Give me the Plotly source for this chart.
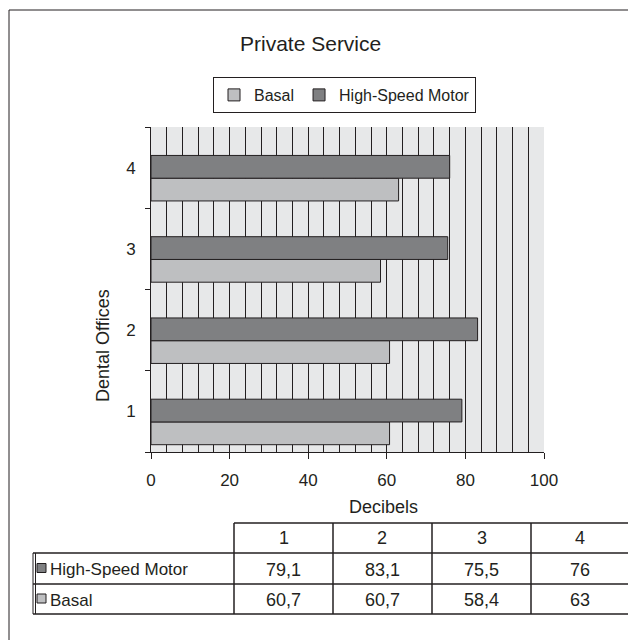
import plotly.graph_objects as go

# dental office noise levels (dB), private service
offices = [1, 2, 3, 4]
office_labels = ["1", "2", "3", "4"]
basal = [60.7, 60.7, 58.4, 63]
motor = [79.1, 83.1, 75.5, 76]
basal_txt = ["60,7", "60,7", "58,4", "63"]
motor_txt = ["79,1", "83,1", "75,5", "76"]

W, H = 636, 640
OFF = 8  # page body margin in the browser
INK = "#231f20"
DARK = "#7f8082"
LIGHT = "#bebfc1"
FONT = "Liberation Sans, Arial, sans-serif"


def px(x):
    return (x - OFF) / W


def py(y):
    return 1 - (y - OFF) / H


def note(x, y, text, size, **kw):
    d = dict(x=px(x), y=py(y), xref="paper", yref="paper", text=text,
             showarrow=False, xanchor="center", yanchor="middle",
             font=dict(family=FONT, size=size, color=INK))
    d.update(kw)
    return d


def hline(x0, x1, y, width=1.5):
    return dict(type="line", xref="paper", yref="paper", x0=px(x0), x1=px(x1),
                y0=py(y), y1=py(y), line=dict(color=INK, width=width))


def vline(x, y0, y1, width=1.5):
    return dict(type="line", xref="paper", yref="paper", x0=px(x), x1=px(x),
                y0=py(y0), y1=py(y1), line=dict(color=INK, width=width))


fig = go.Figure()
fig.add_trace(go.Bar(
    name="Basal", y=offices, x=basal, orientation="h",
    width=0.28, offset=-0.41,
    marker=dict(color=LIGHT, line=dict(color=INK, width=1)),
))
fig.add_trace(go.Bar(
    name="High-Speed Motor", y=offices, x=motor, orientation="h",
    width=0.28, offset=-0.13,
    marker=dict(color=DARK, line=dict(color=INK, width=1)),
))

shapes = []
annotations = []

# outer frame (open at right and bottom, like the cropped page)
shapes.append(hline(9, 660, 10, width=1))
shapes.append(vline(9, 10, 660, width=1))

# data table under the chart
col_x = [234, 333, 432, 531, 629]
row_y = [523, 553, 584, 614]
left_x = 33
shapes.append(hline(col_x[0], col_x[-1], row_y[0]))
for yy in row_y[1:]:
    shapes.append(hline(left_x, col_x[-1], yy))
for xx in col_x:
    shapes.append(vline(xx, row_y[0], row_y[-1]))
for xx in (left_x, left_x + 2.5):
    shapes.append(vline(xx, row_y[1], row_y[-1], width=1))

for i, lab in enumerate(office_labels):
    cx = (col_x[i] + col_x[i + 1]) / 2
    annotations.append(note(cx, (row_y[0] + row_y[1]) / 2, lab, 18))
    annotations.append(note(cx, (row_y[1] + row_y[2]) / 2 + 1, motor_txt[i], 18))
    annotations.append(note(cx, (row_y[2] + row_y[3]) / 2 + 1, basal_txt[i], 18))

for (name, color), r in zip([("High-Speed Motor", DARK), ("Basal", LIGHT)], [1, 2]):
    cy = (row_y[r] + row_y[r + 1]) / 2
    shapes.append(dict(type="rect", xref="paper", yref="paper",
                       x0=px(37), x1=px(46), y0=py(cy - 5), y1=py(cy + 4),
                       fillcolor=color, line=dict(color=INK, width=1)))
    annotations.append(note(48, cy + 1, name, 17, xanchor="left"))

# chart title and axis titles
annotations.append(note(310, 43, "Private Service", 21))
annotations.append(note(383, 507, "Decibels", 18))
annotations.append(note(103, 346, "Dental Offices", 18, textangle=-90))

fig.update_layout(
    width=W, height=H,
    margin=dict(l=0, r=0, t=0, b=0),
    paper_bgcolor="white",
    plot_bgcolor="#e7e8e9",
    barmode="overlay",
    font=dict(family=FONT, size=17, color=INK),
    shapes=shapes,
    annotations=annotations,
    showlegend=True,
    legend=dict(
        orientation="h", x=px(213), y=py(77), xanchor="left", yanchor="top",
        bordercolor=INK, borderwidth=1, bgcolor="white",
        font=dict(family=FONT, size=16, color=INK),
        traceorder="normal", itemwidth=30,
    ),
    xaxis=dict(
        domain=[px(151), px(544)], range=[0, 100],
        tickvals=[0, 20, 40, 60, 80, 100],
        ticks="outside", ticklen=6, tickcolor=INK, tickwidth=1,
        ticklabelstandoff=7,
        showline=True, linecolor=INK, linewidth=1,
        showgrid=True, gridcolor=INK, gridwidth=1,
        zeroline=False, automargin=False,
        minor=dict(dtick=4, tick0=0, showgrid=True, gridcolor=INK, gridwidth=1, ticks=""),
        tickfont=dict(size=17),
    ),
    yaxis=dict(
        domain=[py(452), py(127)], range=[0.5, 4.5],
        tickvals=offices, ticktext=office_labels, ticks="",
        ticklabelstandoff=11,
        showline=True, linecolor=INK, linewidth=1,
        showgrid=False, zeroline=False, automargin=False,
        minor=dict(tickvals=[0.5, 1.5, 2.5, 3.5, 4.5], ticks="outside", ticklen=5,
                   tickcolor=INK, tickwidth=1, showgrid=False),
        tickfont=dict(size=17),
    ),
)

fig.write_html("out.html")
